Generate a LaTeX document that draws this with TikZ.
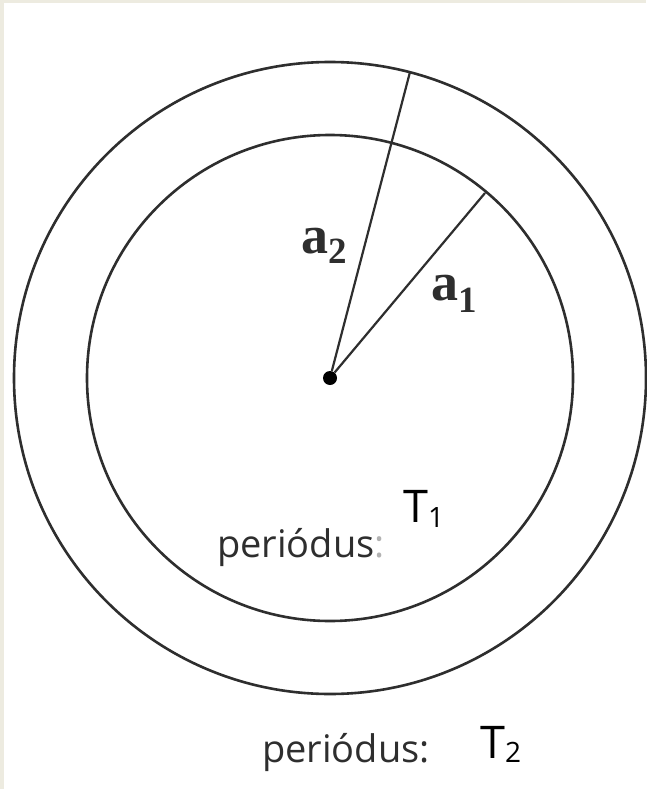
\documentclass[tikz,border=0pt]{standalone}
\usepackage{fontspec}
\setmainfont{Open Sans}
\newfontfamily\timesfont{Liberation Serif}
\definecolor{ink}{HTML}{2E2E2E}
\definecolor{paper}{HTML}{EDEBE0}
\begin{document}
\begin{tikzpicture}[x=1pt, y=-1pt,
    orbit/.style={draw=ink, line width=2.6pt},
    rline/.style={draw=ink, line width=2.2pt},
    semilbl/.style={anchor=base west, inner sep=0pt, text=ink,
        font=\timesfont\bfseries\fontsize{54}{54}\selectfont},
    perlbl/.style={anchor=base west, inner sep=0pt, text=ink,
        font=\fontsize{38}{38}\selectfont},
    tlbl/.style={anchor=base west, inner sep=0pt, text=black,
        font=\fontsize{45}{45}\selectfont}]

    \useasboundingbox (0,0) rectangle (646,789);
    \fill[paper] (0,0) rectangle (646,789);
    \fill[white] (4,3) rectangle (646,789);

    \node[circle, fill=black, inner sep=0pt, minimum size=14pt] (centre) at (330,378) {};
    \coordinate (p2) at (410,72);
    \coordinate (p1) at (485,193);

    \draw[orbit] (centre.center) circle[radius=316pt];
    \draw[orbit] (centre.center) circle[radius=243pt];
    \draw[rline] (centre) -- (p2);
    \draw[rline] (centre) -- (p1);

    \node[semilbl] (a2) at (301,253) {a\raisebox{-10pt}{\fontsize{37}{37}\selectfont 2}};
    \node[semilbl] (a1) at (431,300) {a\raisebox{-12pt}{\fontsize{37}{37}\selectfont 1}};

    \node[perlbl] (per1) at (217,557) {periódus\textcolor{black!30}{:}};
    \node[tlbl] (t1) at (403,522) {T\raisebox{-5pt}{\fontsize{28}{28}\selectfont 1}};

    \node[perlbl] (per2) at (262,762) {periódus:};
    \node[tlbl] (t2) at (480,758) {T\raisebox{-4pt}{\fontsize{28}{28}\selectfont 2}};
    \end{tikzpicture}
\end{document}
